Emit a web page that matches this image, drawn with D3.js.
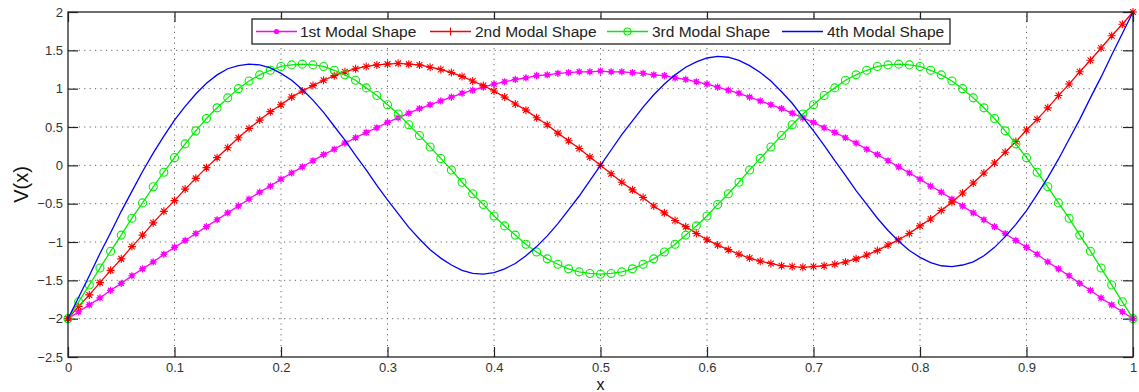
<!DOCTYPE html>
<html>
<head>
<meta charset="utf-8">
<script src="https://cdn.jsdelivr.net/npm/d3@7"></script>
<style>
  body { margin: 0; background: #fff; }
  svg { display: block; font-family: 'Liberation Sans', Arial, sans-serif; }
</style>
</head>
<body>
<svg id="chart" width="1139" height="392"></svg>
<script>
// tick values
const xTicks = [0, 0.1, 0.2, 0.3, 0.4, 0.5, 0.6, 0.7, 0.8, 0.9, 1];
const yTicks = [-2.5, -2, -1.5, -1, -0.5, 0, 0.5, 1, 1.5, 2];

const seriesNames = ['1st Modal Shape', '2nd Modal Shape', '3rd Modal Shape', '4th Modal Shape'];

// V(x) sampled every 0.01 from x = 0 to x = 1
const mode1 = [
    -2.00,-1.91,-1.82,-1.73,-1.63,-1.54,-1.44,-1.35,-1.26,-1.16,
    -1.07,-0.98,-0.89,-0.80,-0.71,-0.62,-0.53,-0.44,-0.35,-0.27,
    -0.18,-0.10,-0.02,0.06,0.14,0.21,0.29,0.36,0.43,0.49,
    0.56,0.62,0.68,0.74,0.79,0.84,0.89,0.94,0.98,1.02,
    1.06,1.09,1.12,1.14,1.17,1.18,1.20,1.21,1.22,1.22,
    1.23,
    1.22,1.22,1.21,1.20,1.18,1.17,1.14,1.12,1.09,1.06,
    1.02,0.98,0.94,0.89,0.84,0.79,0.74,0.68,0.62,0.56,
    0.49,0.43,0.36,0.29,0.21,0.14,0.06,-0.02,-0.10,-0.18,
    -0.27,-0.35,-0.44,-0.53,-0.62,-0.71,-0.80,-0.89,-0.98,-1.07,
    -1.16,-1.26,-1.35,-1.44,-1.54,-1.63,-1.73,-1.82,-1.91,-2.00
];

const mode2 = [
    -2.00,-1.84,-1.69,-1.53,-1.37,-1.22,-1.06,-0.91,-0.75,-0.60,
    -0.46,-0.31,-0.17,-0.03,0.10,0.23,0.36,0.48,0.59,0.70,
    0.79,0.89,0.97,1.04,1.11,1.17,1.22,1.26,1.29,1.31,
    1.32,1.33,1.32,1.31,1.28,1.25,1.21,1.16,1.10,1.04,
    0.97,0.89,0.80,0.72,0.62,0.53,0.42,0.32,0.22,0.11,
    0.00,
    -0.11,-0.22,-0.32,-0.42,-0.53,-0.62,-0.72,-0.80,-0.89,-0.97,
    -1.04,-1.10,-1.16,-1.21,-1.25,-1.28,-1.31,-1.32,-1.33,-1.32,
    -1.31,-1.29,-1.26,-1.22,-1.17,-1.11,-1.04,-0.97,-0.89,-0.79,
    -0.70,-0.59,-0.48,-0.36,-0.23,-0.10,0.03,0.17,0.31,0.46,
    0.60,0.75,0.91,1.06,1.22,1.37,1.53,1.69,1.84,2.00
];

const mode3 = [
    -2.00,-1.78,-1.56,-1.34,-1.12,-0.91,-0.69,-0.49,-0.28,-0.09,
    0.10,0.28,0.45,0.61,0.75,0.88,1.00,1.10,1.18,1.24,
    1.29,1.31,1.32,1.31,1.29,1.24,1.18,1.11,1.01,0.91,
    0.79,0.67,0.53,0.39,0.24,0.09,-0.06,-0.22,-0.37,-0.51,
    -0.66,-0.79,-0.91,-1.03,-1.13,-1.22,-1.29,-1.35,-1.39,-1.41,
    -1.42,
    -1.41,-1.39,-1.35,-1.29,-1.22,-1.13,-1.03,-0.91,-0.79,-0.66,
    -0.51,-0.37,-0.22,-0.06,0.09,0.24,0.39,0.53,0.67,0.79,
    0.91,1.01,1.11,1.18,1.24,1.29,1.31,1.32,1.31,1.29,
    1.24,1.18,1.10,1.00,0.88,0.75,0.61,0.45,0.28,0.10,
    -0.09,-0.28,-0.49,-0.69,-0.91,-1.12,-1.34,-1.56,-1.78,-2.00
];

const mode4 = [
    -2.00,-1.72,-1.44,-1.15,-0.88,-0.60,-0.34,-0.08,0.16,0.38,
    0.59,0.77,0.93,1.07,1.18,1.26,1.30,1.32,1.31,1.27,
    1.20,1.11,0.99,0.85,0.69,0.51,0.33,0.13,-0.06,-0.26,
    -0.45,-0.63,-0.81,-0.96,-1.10,-1.21,-1.30,-1.37,-1.41,-1.42,
    -1.40,-1.35,-1.28,-1.18,-1.06,-0.92,-0.76,-0.58,-0.40,-0.20,
    0.00,
    0.20,0.40,0.58,0.76,0.92,1.06,1.18,1.28,1.35,1.40,
    1.42,1.41,1.37,1.30,1.21,1.10,0.96,0.81,0.63,0.45,
    0.26,0.06,-0.13,-0.33,-0.51,-0.69,-0.85,-0.99,-1.11,-1.20,
    -1.27,-1.31,-1.32,-1.30,-1.26,-1.18,-1.07,-0.93,-0.77,-0.59,
    -0.38,-0.16,0.08,0.34,0.60,0.88,1.15,1.44,1.72,2.00
];

const xs = mode1.map((_d, i) => i / 100);

const width = 1139;
const height = 392;
const margin = { top: 12, right: 6, bottom: 35, left: 68 };

const svg = d3.select('#chart');

const xScale = d3.scaleLinear()
    .domain([0, 1])
    .range([margin.left, width - margin.right]);

const yScale = d3.scaleLinear()
    .domain([-2.5, 2])
    .range([height - margin.bottom, margin.top]);

const x0 = xScale(0), x1 = xScale(1);
const y0 = yScale(-2.5), y1 = yScale(2);

// Dotted grid

const grid = svg.append('g').attr('class', 'grid')
    .attr('stroke', '#666')
    .attr('stroke-width', 1)
    .attr('stroke-dasharray', '1.2,4.2');

grid.selectAll('.gx')
    .data(xTicks.slice(1, -1))
    .join('line')
    .attr('class', 'gx')
    .attr('x1', d => xScale(d)).attr('x2', d => xScale(d))
    .attr('y1', y0).attr('y2', y1);

grid.selectAll('.gy')
    .data(yTicks.slice(1, -1))
    .join('line')
    .attr('class', 'gy')
    .attr('x1', x0).attr('x2', x1)
    .attr('y1', d => yScale(d)).attr('y2', d => yScale(d));

// Axes (ticks point inwards, on all four sides)

const fmt = d3.format('~g');

const styleAxis = g => {
    g.select('.domain').remove();
    g.selectAll('.tick line').attr('stroke', '#222').attr('stroke-width', 1.2);
    g.selectAll('.tick text')
        .attr('fill', '#333')
        .attr('font-size', '13px');
};

svg.append('g')
    .attr('class', 'x-axis')
    .attr('transform', `translate(0,${y0})`)
    .call(d3.axisBottom(xScale).tickValues(xTicks).tickSize(-10).tickPadding(6).tickFormat(fmt))
    .call(styleAxis);

svg.append('g')
    .attr('class', 'x-axis-top')
    .attr('transform', `translate(0,${y1})`)
    .call(d3.axisTop(xScale).tickValues(xTicks).tickSize(-10).tickFormat(''))
    .call(styleAxis);

svg.append('g')
    .attr('class', 'y-axis')
    .attr('transform', `translate(${x0},0)`)
    .call(d3.axisLeft(yScale).tickValues(yTicks).tickSize(-10).tickPadding(5).tickFormat(fmt))
    .call(styleAxis);

svg.append('g')
    .attr('class', 'y-axis-right')
    .attr('transform', `translate(${x1},0)`)
    .call(d3.axisRight(yScale).tickValues(yTicks).tickSize(-10).tickFormat(''))
    .call(styleAxis);

// Marker shapes

const asterisk = (r, diag) => {
    const d = r * 0.72;
    let p = `M${-r},0L${r},0M0,${-r}L0,${r}`;
    if (diag) p += `M${-d},${-d}L${d},${d}M${-d},${d}L${d},${-d}`;
    return p;
};

const series = [
    { name: seriesNames[0], values: mode1, color: '#ff00ff', marker: 'dot' },
    { name: seriesNames[1], values: mode2, color: '#ff0000', marker: 'star' },
    { name: seriesNames[2], values: mode3, color: '#00ee00', marker: 'circle' },
    { name: seriesNames[3], values: mode4, color: '#0000ff', marker: null }
];

const line = d3.line()
    .x((_d, i) => xScale(xs[i]))
    .y(d => yScale(d));

const drawMarker = (sel, type, color) => {
    if (type === 'dot') {
        sel.append('circle').attr('r', 2.4).attr('fill', color);
        sel.append('path').attr('d', asterisk(3.6, true))
            .attr('stroke', color).attr('stroke-width', 1.2).attr('fill', 'none');
    } else if (type === 'star') {
        sel.append('path').attr('d', asterisk(4, true))
            .attr('stroke', color).attr('stroke-width', 1.1).attr('fill', 'none');
    } else if (type === 'circle') {
        sel.append('circle').attr('r', 4)
            .attr('fill', 'none').attr('stroke', color).attr('stroke-width', 1.1);
    }
};

series.forEach(s => {
    const g = svg.append('g').attr('class', 'series');

    g.append('path')
        .datum(s.values)
        .attr('fill', 'none')
        .attr('stroke', s.color)
        .attr('stroke-width', 1.3)
        .attr('d', line);

    if (s.marker) {
        g.selectAll('.mk')
            .data(s.values)
            .join('g')
            .attr('class', 'mk')
            .attr('transform', (d, i) => `translate(${xScale(xs[i])},${yScale(d)})`)
            .each(function () { drawMarker(d3.select(this), s.marker, s.color); });
    }
});

// Frame

svg.append('rect')
    .attr('x', x0).attr('y', y1)
    .attr('width', x1 - x0).attr('height', y0 - y1)
    .attr('fill', 'none')
    .attr('stroke', '#222')
    .attr('stroke-width', 1.3);

// Legend

const legendLayout = [
    { lx: 256, tx: 300 },
    { lx: 430, tx: 475 },
    { lx: 607, tx: 652 },
    { lx: 782, tx: 827 }
];

const legend = svg.append('g').attr('class', 'legend');

legend.append('rect')
    .attr('x', 252).attr('y', 19)
    .attr('width', 698).attr('height', 25)
    .attr('fill', '#fff')
    .attr('stroke', '#222')
    .attr('stroke-width', 1.3);

series.forEach((s, i) => {
    const { lx, tx } = legendLayout[i];
    const ly = 31.5;
    legend.append('line')
        .attr('x1', lx).attr('x2', lx + 41)
        .attr('y1', ly).attr('y2', ly)
        .attr('stroke', s.color)
        .attr('stroke-width', 1.3);

    const m = legend.append('g').attr('transform', `translate(${lx + 20.5},${ly})`);
    if (s.marker === 'dot') {
        m.append('circle').attr('r', 2.6).attr('fill', s.color);
    } else if (s.marker === 'star') {
        m.append('path').attr('d', asterisk(4, false))
            .attr('stroke', s.color).attr('stroke-width', 1.1);
    } else if (s.marker === 'circle') {
        m.append('circle').attr('r', 3.5)
            .attr('fill', 'none').attr('stroke', s.color).attr('stroke-width', 1.1);
    }

    legend.append('text')
        .attr('x', tx)
        .attr('y', 37)
        .attr('fill', '#222')
        .attr('font-size', '15.5px')
        .text(s.name);
});

// Axis labels

svg.append('text')
    .attr('class', 'y-axis-label')
    .attr('text-anchor', 'middle')
    .attr('transform', `translate(28,${(y0 + y1) / 2}) rotate(-90)`)
    .attr('fill', '#111')
    .attr('font-size', '20px')
    .text('V(x)');

svg.append('text')
    .attr('class', 'x-axis-label')
    .attr('text-anchor', 'middle')
    .attr('x', (x0 + x1) / 2)
    .attr('y', 390)
    .attr('fill', '#111')
    .attr('font-size', '16px')
    .text('x');
</script>
</body>
</html>
